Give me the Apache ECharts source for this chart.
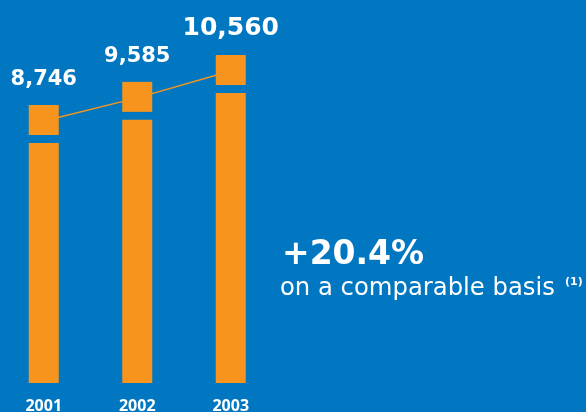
<!DOCTYPE html>
<html>
<head>
<meta charset="utf-8">
<script src="https://cdn.jsdelivr.net/npm/echarts@6/dist/echarts.min.js"></script>
<style>
  html, body { margin: 0; padding: 0; background: #0077c0; overflow: hidden; }
  /* chart canvas is nudged 3px left so the first column sits near the edge */
  #chart { width: 589px; height: 412px; margin-left: -3px; }
</style>
</head>
<body>
<div id="chart"></div>
<script>
// Sales by year
const years = ['2001', '2002', '2003'];
const sales = [8746, 9585, 10560];
const valueLabels = ['8,746', '9,585', '10,560'];

// Growth callout
const growthText = '+20.4%';
const growthNote = 'on a comparable basis';
const footnoteMark = '(1)';

// Styling
const ORANGE = '#f7941d';
const BLUE = '#0077c0';
const AXIS_FLOOR = -1340;      // value axis starts below zero, bars rise from the floor
const AXIS_CEIL = 12000;
const BAR_W = 30;
const CAP_H = 30;              // height of the detached cap block on each bar
const CAP_GAP = 8;             // blue gap between cap block and bar body
const LINE_DROP = 16;          // trend line runs through the cap blocks
const LABEL_GAP = 18.5;
const labelFontSizes = [21, 21, 25];
const NUM_FONT = 'DejaVu Sans';
const SHIFT = 3;               // compensates the canvas offset for free-placed text

const chart = echarts.init(document.getElementById('chart'), null, { renderer: 'canvas' });

chart.setOption({
  backgroundColor: BLUE,
  animation: false,
  grid: { left: 0, width: 280.5, top: 15.3, bottom: 29, outerBoundsMode: 'none', containLabel: false },
  xAxis: {
    type: 'category',
    data: years,
    axisLine: { show: false },
    axisTick: { show: false },
    splitLine: { show: false },
    axisLabel: {
      color: '#ffffff',
      fontFamily: 'Open Sans',
      fontWeight: 'bold',
      fontSize: 16,
      margin: 15
    }
  },
  yAxis: {
    type: 'value',
    min: AXIS_FLOOR,
    max: AXIS_CEIL,
    show: false
  },
  series: [
    {
      // trend line joining the cap blocks
      type: 'custom',
      z: 1,
      data: sales.map((v, i) => [i, v]),
      renderItem: function (params, api) {
        const i = params.dataIndex;
        if (i === 0) return null;
        const a = api.coord([i - 1, sales[i - 1]]);
        const b = api.coord([i, sales[i]]);
        return {
          type: 'line',
          shape: { x1: a[0], y1: a[1] + LINE_DROP, x2: b[0], y2: b[1] + LINE_DROP },
          style: { stroke: ORANGE, lineWidth: 1.5 }
        };
      }
    },
    {
      // bars: cap block, gap, body; value above
      type: 'custom',
      z: 2,
      data: sales.map((v, i) => [i, v]),
      renderItem: function (params, api) {
        const i = params.dataIndex;
        const top = api.coord([api.value(0), api.value(1)]);
        const base = params.coordSys.y + params.coordSys.height;
        const cx = top[0];
        const y0 = top[1];
        const bodyTop = y0 + CAP_H + CAP_GAP;
        const fs = labelFontSizes[i];
        return {
          type: 'group',
          children: [
            {
              type: 'rect',
              shape: { x: cx - BAR_W / 2, y: y0, width: BAR_W, height: CAP_H },
              style: { fill: ORANGE }
            },
            {
              type: 'rect',
              shape: { x: cx - BAR_W / 2, y: bodyTop, width: BAR_W, height: base - bodyTop },
              style: { fill: ORANGE }
            },
            {
              type: 'text',
              x: cx,
              y: y0 - LABEL_GAP - 0.32 * fs,
              style: {
                text: valueLabels[i],
                fill: '#ffffff',
                font: 'bold ' + fs + 'px "' + NUM_FONT + '"',
                textAlign: 'center',
                textVerticalAlign: 'middle'
              }
            }
          ]
        };
      }
    }
  ],
  graphic: [
    {
      type: 'text',
      left: 282 + SHIFT,
      top: 239,
      style: {
        text: growthText,
        fill: '#ffffff',
        font: 'bold 33px "DejaVu Sans"'
      }
    },
    {
      type: 'text',
      left: 280 + SHIFT,
      top: 277,
      style: {
        text: growthNote,
        fill: '#ffffff',
        font: '24.3px "DejaVu Sans"'
      }
    },
    {
      type: 'text',
      left: 565 + SHIFT,
      top: 277,
      style: {
        text: footnoteMark,
        fill: '#ffffff',
        font: 'bold 11px "DejaVu Sans"'
      }
    }
  ]
});
</script>
</body>
</html>
